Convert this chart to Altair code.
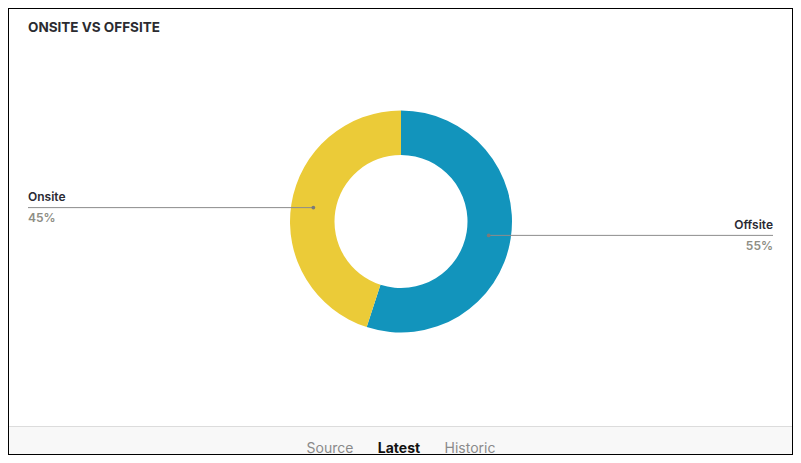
import math
import altair as alt
import pandas as pd

# ---- data ----
categories = ["Onsite", "Offsite"]
values = [45, 55]
pct_labels = ["45%", "55%"]
slice_order = [1, 0]          # Offsite drawn first, clockwise from 12 o'clock
colors = ["#EBCB38", "#1294BC"]
title_text = "ONSITE VS OFFSITE"
tabs = ["Source", "Latest", "Historic"]
tab_weight = ["normal", "bold", "normal"]
tab_color = ["#8a8a8a", "#111111", "#8a8a8a"]

# ---- layout ----
W, H = 785, 447
CX, CY = 393, 213.5
R_IN, R_OUT = 66.5, 111
R_MID = (R_IN + R_OUT) / 2
LEFT_X, RIGHT_X = 20, 765

df = pd.DataFrame({"category": categories, "value": values,
                   "pct": pct_labels, "order": slice_order})
total = sum(values)
df = df.sort_values("order")
df["cum"] = df["value"].cumsum() - df["value"] / 2
df["angle"] = df["cum"] / total * 2 * math.pi
df["dot_x"] = CX + R_MID * df["angle"].apply(math.sin)
df["dot_y"] = CY - R_MID * df["angle"].apply(math.cos)
df["side"] = df["dot_x"].apply(lambda v: "right" if v > CX else "left")
df["end_x"] = df["side"].map({"left": LEFT_X, "right": RIGHT_X})
df["name_y"] = df["dot_y"] - 6.5
df["pct_y"] = df["dot_y"] + 14.5

tabs_df = pd.DataFrame({"tab": tabs, "weight": tab_weight, "col": tab_color,
                        "tx": [322, 391, 462]})

FONT = "Inter"
base = alt.Chart(df)

bar_bg = alt.Chart(pd.DataFrame({"a": [0]})).mark_rect(color="#f8f8f8").encode(
    x=alt.value(0), x2=alt.value(W), y=alt.value(418.5), y2=alt.value(H))
bar_line = alt.Chart(pd.DataFrame({"a": [0]})).mark_rule(color="#dcdcdc", strokeWidth=1).encode(
    x=alt.value(0), x2=alt.value(W), y=alt.value(418.5))

donut = base.mark_arc(innerRadius=R_IN, outerRadius=R_OUT).encode(
    theta=alt.Theta("value:Q", stack=True),
    color=alt.Color("category:N", scale=alt.Scale(domain=categories, range=colors), legend=None),
    order=alt.Order("order:Q"),
    x=alt.value(CX), y=alt.value(CY),
)

leader = base.mark_rule(color="#8c8c8c", strokeWidth=1).encode(
    x=alt.X("dot_x:Q", scale=None), x2="end_x:Q",
    y=alt.Y("dot_y:Q", scale=None),
)
dots = base.mark_circle(size=14, color="#7a7a7a", opacity=1).encode(
    x=alt.X("dot_x:Q", scale=None), y=alt.Y("dot_y:Q", scale=None))

def labels(side, align):
    s = base.transform_filter(alt.datum.side == side)
    name = s.mark_text(align=align, baseline="alphabetic", font=FONT, fontSize=12,
                       fontWeight=600, color="#2a2a33").encode(
        x=alt.X("end_x:Q", scale=None), y=alt.Y("name_y:Q", scale=None), text="category:N")
    pct = s.mark_text(align=align, baseline="alphabetic", font=FONT, fontSize=12,
                      fontWeight=600, color="#8d8d84").encode(
        x=alt.X("end_x:Q", scale=None), y=alt.Y("pct_y:Q", scale=None), text="pct:N")
    return name + pct

title = alt.Chart(pd.DataFrame({"t": [title_text]})).mark_text(
    align="left", baseline="alphabetic", font=FONT, fontSize=13.5, fontWeight="bold",
    color="#2b2b30").encode(x=alt.value(20), y=alt.value(23.7), text="t:N")

tab_layers = []
for w in ["normal", "bold"]:
    tab_layers.append(
        alt.Chart(tabs_df).transform_filter(alt.datum.weight == w).mark_text(
            align="center", baseline="alphabetic", font=FONT, fontSize=14, fontWeight=w).encode(
            x=alt.X("tx:Q", scale=None), y=alt.value(445), text="tab:N",
            color=alt.Color("col:N", scale=None)))

border = alt.Chart(pd.DataFrame({"a": [0]})).mark_rect(
    fill=None, stroke="#000", strokeWidth=2).encode(
    x=alt.value(0), x2=alt.value(W), y=alt.value(0), y2=alt.value(H))

chart = alt.layer(bar_bg, bar_line, donut, leader, dots,
                  labels("left", "left"), labels("right", "right"),
                  title, *tab_layers, border).properties(
    width=W, height=H, padding=0, autosize=alt.AutoSizeParams(type="none"),
    background="white",
).configure_view(stroke=None)

chart.save("out.html", embed_options={"renderer": "svg", "actions": False})
